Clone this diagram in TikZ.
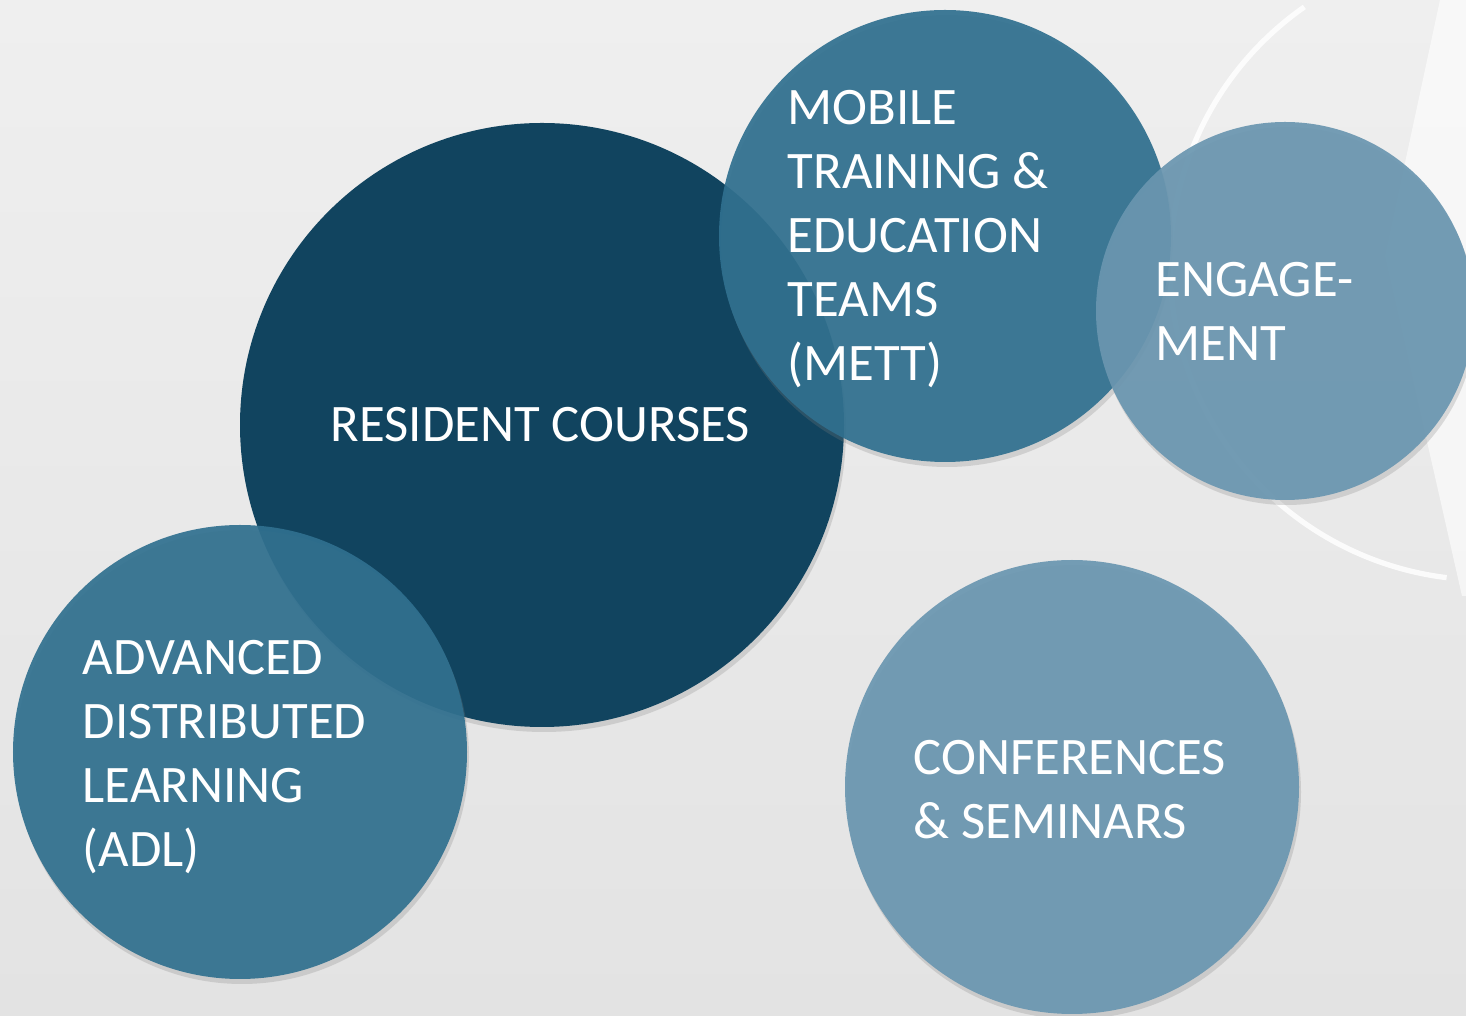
\documentclass[tikz,border=0pt]{standalone}
\usepackage{fontspec}
\setmainfont{Carlito}
\usetikzlibrary{shadows}

\definecolor{fondhaut}{HTML}{EFEFEF}
\definecolor{fondbas}{HTML}{E3E3E3}
\definecolor{fonce}{HTML}{11445F}
\definecolor{moyen}{HTML}{30708F}
\definecolor{clair}{HTML}{6A96B0}

\begin{document}
\begin{tikzpicture}[
  bulle/.style={circle, inner sep=0pt, draw=none,
    drop shadow={shadow xshift=0.02cm, shadow yshift=-0.05cm, opacity=0.25}},
  texte/.style={text=white, inner sep=0pt, anchor=north west, align=left,
    font=\fontsize{15}{18.2}\selectfont}]

% Fond
\shade[top color=fondhaut, bottom color=fondbas] (0,0) rectangle (14.66,10.16);
\useasboundingbox (0,0) rectangle (14.66,10.16);

% Motif blanc à droite
\fill[white, opacity=0.6] (14.40,10.16) -- (13.85,7.6) -- (14.62,4.2) -- (14.66,4.2) -- (14.66,10.16) -- cycle;
\draw[white, line width=1.5pt, opacity=0.85] (14.85,7.51) ++(125:3.15) arc[start angle=125, end angle=263, radius=3.15];

% Cercles
\node[bulle, fill=fonce, minimum size=6.04cm] (res) at (5.42,5.91) {};
\node[bulle, fill=moyen, fill opacity=0.92, minimum size=4.52cm] (mett) at (9.45,7.80) {};
\node[bulle, fill=clair, fill opacity=0.92, minimum size=3.78cm] (eng) at (12.85,7.05) {};
\node[bulle, fill=moyen, fill opacity=0.92, minimum size=4.54cm] (adl) at (2.40,2.64) {};
\node[bulle, fill=clair, fill opacity=0.92, minimum size=4.54cm] (conf) at (10.72,2.29) {};

% Textes
\node[texte] (tres) at (3.30,6.09) {RESIDENT COURSES};
\node[texte] (tmett) at (7.87,9.26) {MOBILE\\TRAINING \&\\EDUCATION\\TEAMS\\(METT)};
\node[texte] (teng) at (11.55,7.54) {ENGAGE-\\MENT};
\node[texte] (tadl) at (0.82,3.76) {ADVANCED\\DISTRIBUTED\\LEARNING\\(ADL)};
\node[texte] (tconf) at (9.13,2.76) {CONFERENCES\\\& SEMINARS};

\end{tikzpicture}
\end{document}
